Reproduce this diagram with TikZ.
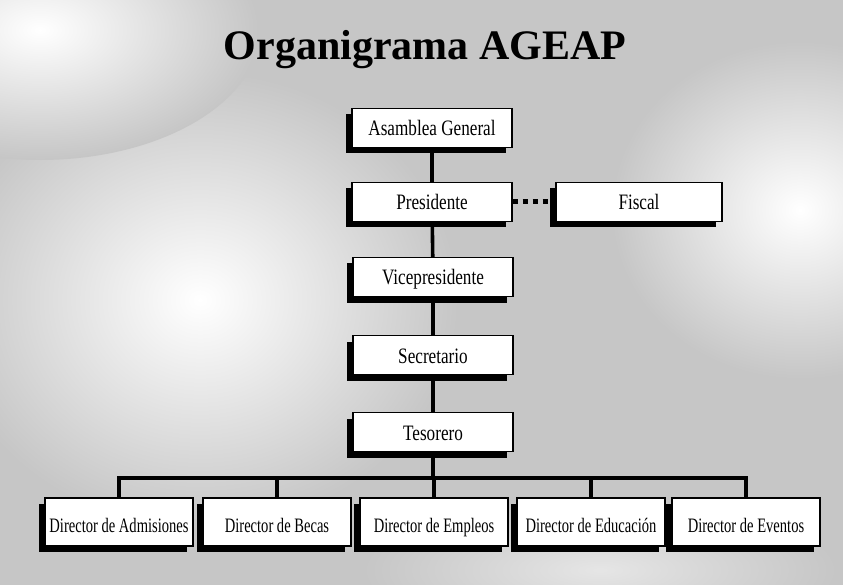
\documentclass[tikz,border=0pt]{standalone}
\usepackage{fontspec}
\usetikzlibrary{shadows}
\newfontfamily\titlefont{Liberation Serif}
\newfontfamily\boxfont[FakeStretch=0.78]{Liberation Serif}
\newfontfamily\dirfont[FakeStretch=0.71]{Liberation Serif}
\tikzset{
orgbox/.style={
	  draw, line width=1.2pt, fill=white, minimum width=160pt,
	    minimum height=39pt, inner sep=2pt, text height=18pt, text depth=2pt,
    font=\boxfont\fontsize{22}{24}\selectfont,
    drop shadow={shadow xshift=-6pt, shadow yshift=-6pt, fill=black, opacity=1}},
dirbox/.style={orgbox, minimum width=148pt, minimum height=48pt,
    text height=21pt, text depth=1pt,
    font=\dirfont\fontsize{20.5}{22}\selectfont},
link/.style={line width=3.6pt},
dots/.style={line width=5pt, dash pattern=on 5pt off 5pt}
}

\begin{document}
\begin{tikzpicture}[x=1pt, y=-1pt]
	\useasboundingbox (0,0) rectangle (843,585);
	\clip (0,0) rectangle (843,585);
	\fill[gray!45] (0,0) rectangle (843,585);
	\shade[inner color=white, outer color=gray!45] (200,300) ellipse (260 and 230);
	\shade[inner color=white, outer color=gray!45] (40,30) ellipse (220 and 130);
	\shade[inner color=white, outer color=gray!45] (800,210) ellipse (190 and 170);
	\shade[inner color=gray!20, outer color=gray!45] (600,570) ellipse (240 and 70);

	\node[font=\titlefont\bfseries\fontsize{42}{46}\selectfont] (title) at (425,50) {Organigrama AGEAP};

	\node[orgbox] (asam) at (432,128) {Asamblea General};
	\node[orgbox] (pres) at (432,202) {Presidente};
	\node[orgbox, minimum width=166pt] (fisc) at (639,202) {Fiscal};
	\node[orgbox] (vice) at (433,277) {Vicepresidente};
	\node[orgbox] (secr) at (433,355) {Secretario};
	\node[orgbox] (teso) at (433,432) {Tesorero};

	\node[dirbox] (adm) at (119,522) {Director de Admisiones};
	\node[dirbox] (bec) at (277,522) {Director de Becas};
	\node[dirbox] (emp) at (434,522) {Director de Empleos};
	\node[dirbox] (edu) at (591,522) {Director de Educación};
	\node[dirbox] (eve) at (746,522) {Director de Eventos};

	\coordinate (bus) at (433,478);

	\draw[link] (asam) -- (pres);
	\draw[link] (pres) -- (vice);
	\draw[link] (vice) -- (secr);
	\draw[link] (secr) -- (teso);
	\draw[dots] (pres) -- (fisc);
	\draw[link] (teso.south) -- (bus);
	\foreach \d in {adm,bec,emp,edu,eve}
		\draw[link] (\d.north) |- (bus);
\end{tikzpicture}
\end{document}
